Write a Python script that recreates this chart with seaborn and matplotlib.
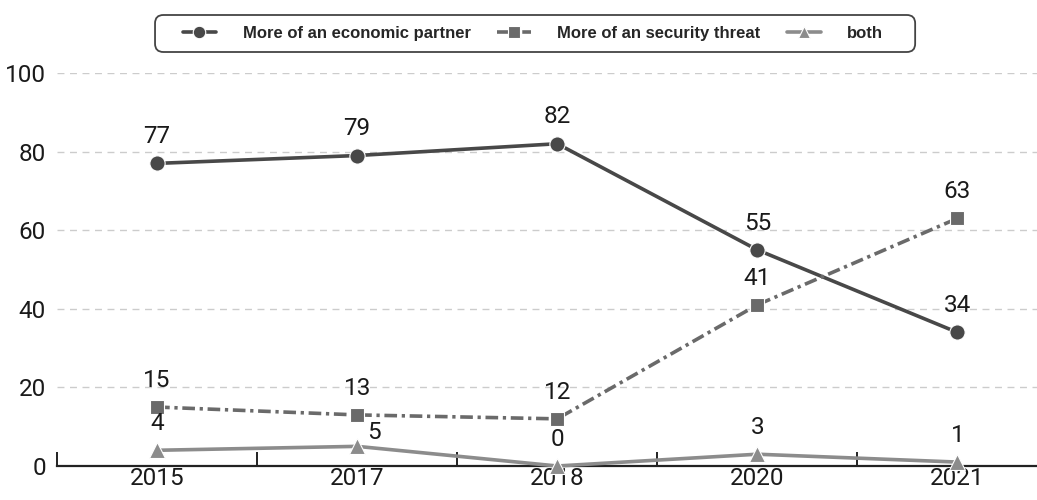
import matplotlib
matplotlib.use("Agg")
import matplotlib.pyplot as plt
import seaborn as sns
import pandas as pd
from matplotlib.ticker import FixedLocator
from matplotlib.patches import FancyBboxPatch

years = ["2015", "2017", "2018", "2020", "2021"]
economic_partner = [77, 79, 82, 55, 34]
security_threat = [15, 13, 12, 41, 63]
both = [4, 5, 0, 3, 1]
series_names = ["More of an economic partner", "More of an security threat", "both"]

sns.set_theme(style="white")
plt.rcParams["font.family"] = ["Roboto", "DejaVu Sans"]

fig = plt.figure(figsize=(10.37, 5.0), dpi=100)
ax = fig.add_axes([0.055, 0.068, 0.955, 0.786])

styles = [
    dict(color="#484848", ls="-", marker="o", ms=11, lw=2.6),
    dict(color="#6a6a6a", ls=(0, (3.5, 1.3, 0.9, 1.3)), marker="s", ms=10, lw=2.6),
    dict(color="#8c8c8c", ls="-", marker="^", ms=11, lw=2.6),
]
pos = list(range(len(years)))
for k, (name, vals, st) in enumerate(zip(series_names, [economic_partner, security_threat, both], styles)):
    df = pd.DataFrame({"x": pos, "y": vals})
    sns.lineplot(data=df, x="x", y="y", ax=ax, color=st["color"], linestyle=st["ls"],
                 marker=st["marker"], markersize=st["ms"], linewidth=st["lw"],
                 markeredgecolor="white", markeredgewidth=0.8, label=name, clip_on=False, zorder=3)
    for x, v in zip(pos, vals):
        if k == 2 and x == 1:
            dx, dy = 12, 2
        else:
            dx, dy = 0, 11
        ax.annotate(str(v), (x, v), xytext=(dx, dy), textcoords="offset points",
                    ha="center", va="bottom", fontsize=17.5, color="#1a1a1a")

ax.set_xlim(-0.5, 4.45)
ax.set_ylim(0, 100)
ax.set_yticks([0, 20, 40, 60, 80, 100])
ax.set_xticks(pos)
ax.set_xticklabels(years)
ax.xaxis.set_minor_locator(FixedLocator([-0.5, 0.5, 1.5, 2.5, 3.5]))
ax.tick_params(axis="x", which="major", bottom=False, length=0, labelsize=17.5, pad=1, colors="#1a1a1a")
ax.tick_params(axis="x", which="minor", bottom=True, direction="in", length=10, width=1.4, color="#222222")
ax.tick_params(axis="y", length=0, labelsize=17.5, pad=8, colors="#1a1a1a")
ax.set_xlabel("")
ax.set_ylabel("")
for s in ["top", "right", "left"]:
    ax.spines[s].set_visible(False)
ax.spines["bottom"].set_color("#222222")
ax.spines["bottom"].set_linewidth(1.6)
ax.yaxis.grid(True, linestyle=(0, (5, 4)), color="#cccccc", linewidth=1)
ax.set_axisbelow(True)
for gl, t in zip(ax.yaxis.get_gridlines(), ax.get_yticks()):
    if t == 0:
        gl.set_visible(False)

handles, labels = ax.get_legend_handles_labels()
ax.legend().remove()
leg = fig.legend(handles, labels, loc="center", bbox_to_anchor=(0.514, 0.933), ncol=3,
                 frameon=False, handlelength=2.0,
                 columnspacing=1.6, handletextpad=1.6, borderpad=0.6,
                 prop={"family": "Liberation Sans", "weight": "bold", "size": 12})
for h in leg.legend_handles:
    h.set_markersize(9)

frame = FancyBboxPatch((0.1495, 0.896), 0.733, 0.074, transform=fig.transFigure,
                       boxstyle="round,pad=0,rounding_size=0.008", facecolor="white",
                       edgecolor="#444444", linewidth=1.3, zorder=0,
                       mutation_aspect=1037 / 500)
fig.patches.append(frame)

fig.savefig("out.png", dpi=100)
